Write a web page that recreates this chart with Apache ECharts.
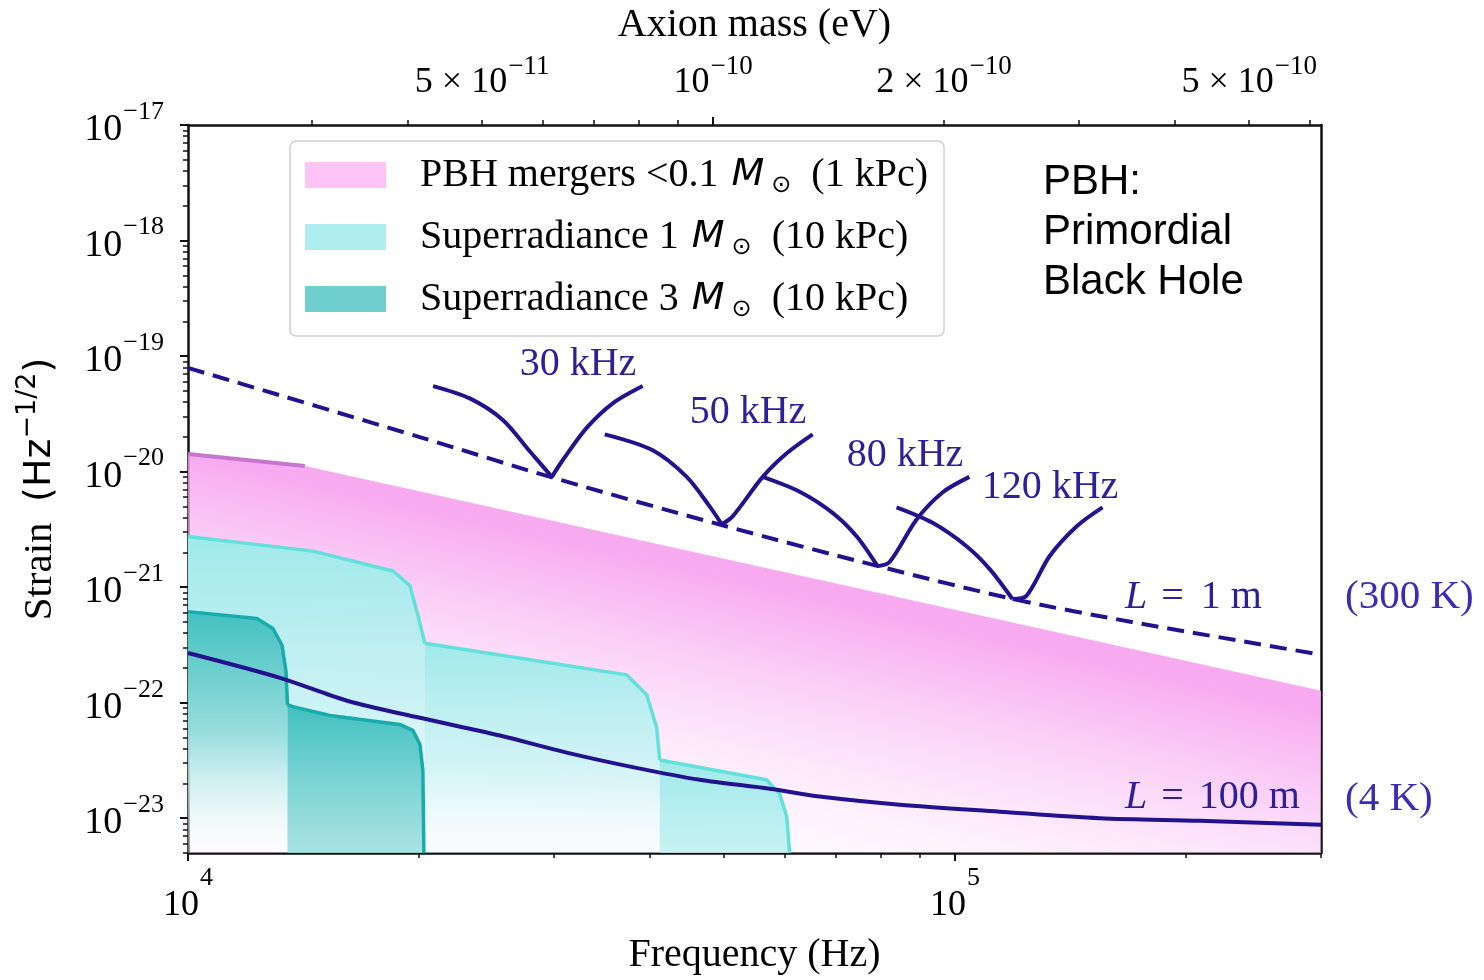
<!DOCTYPE html>
<html><head><meta charset="utf-8">
<script src="https://cdn.jsdelivr.net/npm/echarts@6/dist/echarts.min.js"></script>
<style>html,body{margin:0;padding:0;background:#fff}#c{width:1484px;height:980px}</style>
</head><body><div id="c"></div>
<script>
// ---------------- DATA ----------------
const H_HALF = 2.0678e-15;               // eV*s  (f_GW = 2 m c^2 / h)
const freqRange = [1e4, 3e5];            // Hz
const strainRange = [5e-24, 1e-17];

const freqMajorTicks = [1e4, 1e5];
const freqMinorTicks = [2e4, 3e4, 4e4, 5e4, 6e4, 7e4, 8e4, 9e4, 2e5, 3e5];
const massMajorTicks = [1e-10];
const massMinorTicks = [3e-11, 4e-11, 5e-11, 6e-11, 7e-11, 8e-11, 9e-11, 2e-10, 3e-10, 4e-10, 5e-10, 6e-10];
const massLabelTicks = [5e-11, 1e-10, 2e-10, 5e-10];
const massLabelMant = ['5', '', '2', '5'];
const massLabelExp  = ['−11', '−10', '−10', '−10'];
const strainMajorTicks = [1e-23, 1e-22, 1e-21, 1e-20, 1e-19, 1e-18, 1e-17];

// L = 1 m (300 K), broadband
const l1mFreq   = [1e4, 2e4, 3e4, 5e4, 8e4, 1.2e5, 1.7e5, 3e5];
const l1mStrain = [7.9e-20, 2.0e-20, 8.8e-21, 3.4e-21, 1.5e-21, 7.8e-22, 5.0e-22, 2.6e-22];

// Resonant curves
const res30Freq    = [20870, 23300, 25730, 27900, 29810, 30810, 33110, 35790, 39150];
const res30Strain  = [5.5e-20, 4.3e-20, 2.8e-20, 1.5e-20, 9.0e-21, 1.26e-20, 2.4e-20, 3.9e-20, 5.5e-20];
const res50Freq    = [34940, 40350, 44690, 47870, 49640, 51300, 56140, 60330, 65220];
const res50Strain  = [2.1e-20, 1.53e-20, 9.0e-21, 5.0e-21, 3.5e-21, 4.1e-21, 9.0e-21, 1.44e-20, 2.1e-20];
const res80Freq    = [56140, 62730, 69240, 74410, 79250, 82160, 89100, 96310, 104400];
const res80Strain  = [9.0e-21, 6.7e-21, 4.4e-21, 2.76e-21, 1.52e-21, 1.65e-21, 3.85e-21, 6.6e-21, 9.0e-21];
const res120Freq   = [83890, 93480, 103500, 110900, 118800, 123900, 132800, 144000, 155700];
const res120Strain = [4.9e-21, 3.6e-21, 2.26e-21, 1.44e-21, 7.9e-22, 8.4e-22, 1.85e-21, 3.35e-21, 4.9e-21];

// L = 100 m (4 K)
const l100Freq   = [1e4, 13180, 16120, 20060, 25500, 31170, 38000, 46460, 57320, 66610, 84680, 114300, 154300, 208300, 3e5];
const l100Strain = [2.69e-22, 1.64e-22, 1.04e-22, 7.4e-23, 5.2e-23, 3.7e-23, 2.77e-23, 2.15e-23, 1.8e-23, 1.54e-23, 1.31e-23, 1.14e-23, 1.0e-23, 9.5e-24, 8.8e-24];

// PBH mergers upper edge
const pbhFreq   = [1e4, 14200, 3e5];
const pbhStrain = [1.42e-20, 1.12e-20, 1.27e-22];
const pbhEdgeFreq   = [1e4, 14200];
const pbhEdgeStrain = [1.42e-20, 1.12e-20];

// Superradiance 1 Msun (three steps)
const sr1aFreq   = [1e4, 14550, 18500, 19470, 19940, 20360];
const sr1aStrain = [2.75e-21, 2.05e-21, 1.38e-21, 1.03e-21, 5.7e-22, 3.27e-22];
const sr1bFreq   = [20360, 37330, 39630, 40830, 41210];
const sr1bStrain = [3.27e-22, 1.74e-22, 1.17e-22, 6.1e-23, 3.19e-23];
const sr1cFreq   = [41210, 56800, 59050, 60330, 60870];
const sr1cStrain = [3.19e-23, 2.15e-23, 1.63e-23, 1.04e-23, 5.0e-24];

// Superradiance 3 Msun (two steps)
const sr3aFreq   = [1e4, 12300, 12900, 13260, 13420, 13480];
const sr3aStrain = [6.14e-22, 5.35e-22, 4.39e-22, 3.14e-22, 1.88e-22, 9.6e-23];
const sr3bFreq   = [13480, 13700, 15310, 18890, 19640, 20060, 20240, 20300];
const sr3bStrain = [9.6e-23, 9.24e-23, 7.74e-23, 6.48e-23, 5.76e-23, 4.37e-23, 2.61e-23, 5.0e-24];

// ---------------- HELPERS ----------------
const NAVY = '#23128e';
const TXT = '#2c1f98';
const SERIF = '"Liberation Serif", "Times New Roman", serif';
const SANS = '"DejaVu Sans", sans-serif';
const ARIAL = '"Liberation Sans", Arial, sans-serif';
const lg = v => Math.log10(v);
const P = (fs, hs) => fs.map((f, i) => [lg(f), lg(hs[i])]);
const X0 = lg(freqRange[0]), X1 = lg(freqRange[1]);
const Y0 = lg(strainRange[0]), Y1 = lg(strainRange[1]);
const massToX = m => lg(m / H_HALF);

const strainMinorTicks = [];
for (let e = -24; e <= -18; e++) for (let k = 2; k <= 9; k++) {
  const v = k * Math.pow(10, e);
  if (v >= strainRange[0] * 0.999 && v < strainRange[1]) strainMinorTicks.push(v);
}

const lin = (x0, y0, x1, y1, stops) => new echarts.graphic.LinearGradient(x0, y0, x1, y1, stops.map(s => ({offset: s[0], color: s[1]})));

const legendText = {
  pbh: '{t|PBH mergers <0.1 }{m|M}{o|⊙}{t|(1 kPc)}',
  sr1: '{t|Superradiance 1 }{m|M}{o|⊙}{t|(10 kPc)}',
  sr3: '{t|Superradiance 3 }{m|M}{o|⊙}{t|(10 kPc)}'
};

function area(name, data, stroke, stops, z) {
  return {
    type: 'line', name: name, data: data, symbol: 'none', silent: true, z: z,
    lineStyle: {color: stroke, width: 3.5},
    areaStyle: {origin: 'start', opacity: 1, color: lin(0, 0, 0, 1, stops)}
  };
}
function curve(data, opts) {
  return Object.assign({
    type: 'line', data: data, symbol: 'none', silent: true, z: 10, smooth: 0.3,
    lineStyle: {color: NAVY, width: 4}
  }, opts || {});
}
// a resonance curve: two smooth arms meeting in a sharp dip
function resonance(fs, hs) {
  const d = P(fs, hs);
  let iMin = 0;
  d.forEach((p, i) => { if (p[1] < d[iMin][1]) iMin = i; });
  return [
    curve(d.slice(0, iMin + 1), {smooth: 0.3}),
    curve(d.slice(iMin), {smooth: 0.3})
  ];
}

const chart = echarts.init(document.getElementById('c'), null, {renderer: 'canvas'});

const option = {
  animation: false,
  backgroundColor: '#fff',
  grid: {left: 188, right: 163, top: 121, bottom: 123, containLabel: false},
  legend: {
    left: 290, top: 141, orient: 'vertical',
    itemWidth: 81, itemHeight: 26, itemGap: 19,
    padding: [14, 16, 14, 15],
    backgroundColor: '#fff', borderColor: '#d0d0d0', borderWidth: 1.5, borderRadius: 6,
    selectedMode: false,
    itemStyle: {borderWidth: 0},
    formatter: n => legendText[n],
    textStyle: {
      padding: [0, 0, 0, 29],
      rich: {
        t: {fontFamily: SERIF, fontSize: 40, lineHeight: 44, color: '#000'},
        m: {fontFamily: SANS, fontStyle: 'italic', fontSize: 38, color: '#000', padding: [0, 0, 0, 3]},
        o: {fontFamily: SANS, fontSize: 24, color: '#000', padding: [22, 20, 0, 7]}
      }
    },
    data: [
      {name: 'pbh', icon: 'rect', itemStyle: {color: '#ffc3f6', borderWidth: 0}},
      {name: 'sr1', icon: 'rect', itemStyle: {color: '#aeeeee', borderWidth: 0}},
      {name: 'sr3', icon: 'rect', itemStyle: {color: '#6fcfcf', borderWidth: 0}}
    ]
  },
  xAxis: [
    { // bottom main
      type: 'value', position: 'bottom', min: X0, max: X1,
      name: 'Frequency (Hz)', nameLocation: 'middle', nameGap: 82,
      nameTextStyle: {fontFamily: SERIF, fontSize: 40, color: '#000'},
      axisLine: {show: true, onZero: false, lineStyle: {color: '#111', width: 2.5}},
      axisTick: {show: true, length: 8, customValues: freqMajorTicks.map(lg), lineStyle: {color: '#111', width: 2}},
      axisLabel: {
        show: true, margin: 11, customValues: freqMajorTicks.map(lg),
        formatter: v => '{b|10}{s|' + Math.round(v) + '}',
        rich: {
          b: {fontFamily: SERIF, fontSize: 36, color: '#000', padding: [24, 0, 0, 0]},
          s: {fontFamily: SERIF, fontSize: 26, color: '#000', padding: [0, 0, 32, 1]}
        }
      },
      splitLine: {show: false}
    },
    { // bottom minor
      type: 'value', position: 'bottom', min: X0, max: X1,
      axisLine: {show: false, onZero: false},
      axisTick: {show: true, length: 5, customValues: freqMinorTicks.map(lg), lineStyle: {color: '#111', width: 1.5}},
      axisLabel: {show: false}, splitLine: {show: false}
    },
    { // top main (axion mass)
      type: 'value', position: 'top', min: X0, max: X1,
      name: 'Axion mass (eV)', nameLocation: 'middle', nameGap: 80,
      nameTextStyle: {fontFamily: SERIF, fontSize: 40, color: '#000'},
      axisLine: {show: true, onZero: false, lineStyle: {color: '#111', width: 2.5}},
      axisTick: {show: true, length: 8, customValues: massMajorTicks.map(massToX), lineStyle: {color: '#111', width: 2}},
      axisLabel: {
        show: true, margin: 23, customValues: massLabelTicks.map(massToX),
        formatter: v => {
          const i = massLabelTicks.findIndex(m => Math.abs(massToX(m) - v) < 1e-6);
          if (i < 0) return '';
          const mant = massLabelMant[i] ? '{b|' + massLabelMant[i] + '}{x|×}' : '';
          return mant + '{b|10}{s|' + massLabelExp[i] + '}';
        },
        rich: {
          b: {fontFamily: SERIF, fontSize: 36, color: '#000', padding: [10, 0, 0, 0]},
          x: {fontFamily: SERIF, fontSize: 36, color: '#000', padding: [10, 9, 0, 9]},
          s: {fontFamily: SERIF, fontSize: 27, color: '#000', padding: [0, 0, 22, 1]}
        }
      },
      splitLine: {show: false}
    },
    { // top minor
      type: 'value', position: 'top', min: X0, max: X1,
      axisLine: {show: false, onZero: false},
      axisTick: {show: true, length: 5, customValues: massMinorTicks.map(massToX), lineStyle: {color: '#111', width: 1.5}},
      axisLabel: {show: false}, splitLine: {show: false}
    }
  ],
  yAxis: [
    { // left main
      type: 'value', position: 'left', min: Y0, max: Y1,
      name: '{t|Strain  }{h|(Hz}{s|−1/2}{h|)}', nameLocation: 'middle', nameGap: 121,
      nameTextStyle: {
        rich: {
          t: {fontFamily: SERIF, fontSize: 41, color: '#000'},
          h: {fontFamily: SANS, fontSize: 38, color: '#000'},
          s: {fontFamily: SANS, fontSize: 27, color: '#000', padding: [0, 0, 26, 0]}
        }
      },
      axisLine: {show: true, onZero: false, lineStyle: {color: '#111', width: 2.5}},
      axisTick: {show: true, length: 8, customValues: strainMajorTicks.map(lg), lineStyle: {color: '#111', width: 2}},
      axisLabel: {
        show: true, margin: 24, customValues: strainMajorTicks.map(lg),
        formatter: v => '{b|10}{s|−' + Math.abs(Math.round(v)) + '}',
        rich: {
          b: {fontFamily: SERIF, fontSize: 38, color: '#000', padding: [10, 0, 0, 0]},
          s: {fontFamily: SERIF, fontSize: 26, color: '#000', padding: [0, 0, 26, 1]}
        }
      },
      splitLine: {show: false}
    },
    { // left minor
      type: 'value', position: 'left', min: Y0, max: Y1,
      axisLine: {show: false, onZero: false},
      axisTick: {show: true, length: 5, customValues: strainMinorTicks.map(lg), lineStyle: {color: '#111', width: 1.5}},
      axisLabel: {show: false}, splitLine: {show: false}
    },
    { // right spine
      type: 'value', position: 'right', min: Y0, max: Y1,
      axisLine: {show: true, onZero: false, lineStyle: {color: '#111', width: 2.5}},
      axisTick: {show: false}, axisLabel: {show: false}, splitLine: {show: false}
    }
  ],
  series: [
    {
      type: 'line', name: 'pbh', data: P(pbhFreq, pbhStrain), symbol: 'none', silent: true, z: 1,
      lineStyle: {width: 0, opacity: 0},
      areaStyle: {origin: 'start', opacity: 1, color: lin(0, 0, -0.052, 0.653, [
        [0, 'rgba(247,158,238,0.88)'], [0.5, 'rgba(249,196,245,0.55)'], [1, 'rgba(253,232,252,0.22)']
      ])}
    },
    {type: 'line', data: P(pbhEdgeFreq, pbhEdgeStrain), symbol: 'none', silent: true, z: 2,
      lineStyle: {color: '#c676cf', width: 4}},
    area('sr1', P(sr1aFreq, sr1aStrain), '#62e0dc', [[0, 'rgba(160,234,234,1)'], [0.55, 'rgba(196,243,243,0.85)'], [0.9, 'rgba(245,255,255,0.2)'], [1, 'rgba(255,255,255,0)']], 3),
    area('sr1', P(sr1bFreq, sr1bStrain), '#62e0dc', [[0, 'rgba(160,234,234,1)'], [0.6, 'rgba(200,244,244,0.8)'], [1, 'rgba(240,253,253,0.3)']], 3),
    area('sr1', P(sr1cFreq, sr1cStrain), '#62e0dc', [[0, 'rgba(160,234,234,1)'], [1, 'rgba(185,240,240,0.8)']], 3),
    area('sr3', P(sr3aFreq, sr3aStrain), '#17abab', [[0, 'rgba(66,192,192,1)'], [0.5, 'rgba(140,216,216,0.85)'], [1, 'rgba(250,255,255,0.2)']], 4),
    area('sr3', P(sr3bFreq, sr3bStrain), '#17abab', [[0, 'rgba(66,192,192,1)'], [1, 'rgba(150,220,220,0.8)']], 4),
    curve(P(l100Freq, l100Strain), {smooth: 0.3}),
    curve(P(l1mFreq, l1mStrain), {smooth: 0.3, lineStyle: {color: NAVY, width: 4, type: [17, 9]}})
  ].concat(
    resonance(res30Freq, res30Strain),
    resonance(res50Freq, res50Strain),
    resonance(res80Freq, res80Strain),
    resonance(res120Freq, res120Strain)
  ),
  graphic: [
    {type: 'text', x: 578, y: 364, z: 20, style: {text: '30 kHz', fontFamily: SERIF, fontSize: 40, fill: TXT, align: 'center', verticalAlign: 'middle'}},
    {type: 'text', x: 748, y: 412, z: 20, style: {text: '50 kHz', fontFamily: SERIF, fontSize: 40, fill: TXT, align: 'center', verticalAlign: 'middle'}},
    {type: 'text', x: 905, y: 455, z: 20, style: {text: '80 kHz', fontFamily: SERIF, fontSize: 40, fill: TXT, align: 'center', verticalAlign: 'middle'}},
    {type: 'text', x: 1050, y: 487, z: 20, style: {text: '120 kHz', fontFamily: SERIF, fontSize: 40, fill: TXT, align: 'center', verticalAlign: 'middle'}},
    {type: 'text', x: 1125, y: 597, z: 20, style: {text: '{i|L}{e|=}1 m', fontFamily: SERIF, fontSize: 40, fill: TXT, align: 'left', verticalAlign: 'middle',
      rich: {i: {fontFamily: SERIF, fontStyle: 'italic', fontSize: 40, fill: TXT}, e: {fontFamily: SERIF, fontSize: 40, fill: TXT, padding: [0, 17, 0, 14]}}}},
    {type: 'text', x: 1125, y: 797, z: 20, style: {text: '{i|L}{e|=}100 m', fontFamily: SERIF, fontSize: 40, fill: TXT, align: 'left', verticalAlign: 'middle',
      rich: {i: {fontFamily: SERIF, fontStyle: 'italic', fontSize: 40, fill: TXT}, e: {fontFamily: SERIF, fontSize: 40, fill: TXT, padding: [0, 15, 0, 14]}}}},
    {type: 'text', x: 1345, y: 597, z: 20, style: {text: '(300 K)', fontFamily: SERIF, fontSize: 41, fill: '#3b2cb4', align: 'left', verticalAlign: 'middle'}},
    {type: 'text', x: 1345, y: 799, z: 20, style: {text: '(4 K)', fontFamily: SERIF, fontSize: 41, fill: '#3b2cb4', align: 'left', verticalAlign: 'middle'}},
    {type: 'text', x: 1043, y: 232, z: 20, style: {text: 'PBH:\nPrimordial\nBlack Hole', fontFamily: ARIAL, fontSize: 42, lineHeight: 50, fill: '#000', align: 'left', verticalAlign: 'middle'}}
  ]
};
chart.setOption(option);
</script>
</body></html>
